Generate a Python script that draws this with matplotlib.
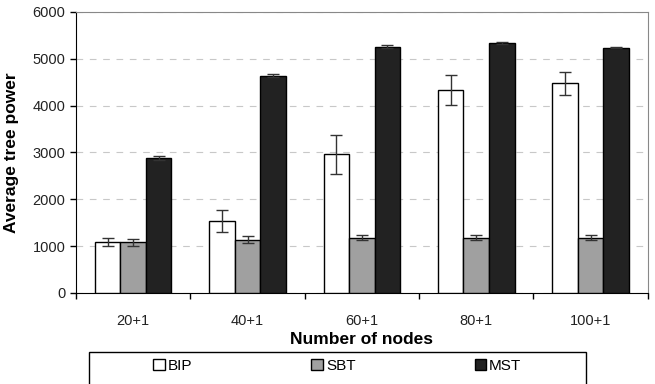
import numpy as np
import matplotlib
matplotlib.use("Agg")
from matplotlib import pyplot as plt
from matplotlib.patches import Rectangle

plt.rcParams['font.family'] = ['Liberation Sans', 'DejaVu Sans']

# data
groups = ['20+1', '40+1', '60+1', '80+1', '100+1']
series = ['BIP', 'SBT', 'MST']
bip = [1090, 1540, 2960, 4330, 4480]
bip_err = [90, 230, 410, 320, 245]
sbt = [1080, 1140, 1180, 1180, 1180]
sbt_err = [70, 70, 55, 55, 55]
mst = [2880, 4640, 5260, 5330, 5240]
mst_err = [35, 25, 40, 20, 20]
colors = ['white', '#a0a0a0', '#222222']

fig = plt.figure(figsize=(6.55, 3.84), dpi=100)
ax = fig.add_axes([0.116, 0.237, 0.873, 0.732])

x = np.arange(len(groups))
width = 0.223
values = [bip, sbt, mst]
errors = [bip_err, sbt_err, mst_err]
for i, (vals, errs, col, name) in enumerate(zip(values, errors, colors, series)):
    ax.bar(x + (i - 1) * width, vals, width, color=col, edgecolor='black',
           linewidth=1, label=name, zorder=3,
           yerr=errs, error_kw=dict(ecolor='#333333', elinewidth=1,
                                    capsize=4, capthick=1, zorder=4))

ax.set_xlim(-0.5, len(groups) - 0.5)
ax.set_ylim(0, 6000)
ax.set_yticks(np.arange(0, 6001, 1000))
ax.yaxis.grid(True, linestyle=(0, (6, 6)), color='#c8c8c8', linewidth=0.8, zorder=0)

# category labels centered, ticks between groups
ax.set_xticks(x)
ax.set_xticklabels(groups)
ax.tick_params(axis='x', length=0, pad=15, labelsize=10.5, labelcolor='#222222')
ax.set_xticks(np.arange(-0.5, len(groups), 1), minor=True)
ax.tick_params(axis='x', which='minor', length=4, direction='out', width=1)
ax.tick_params(axis='y', length=4, direction='out', width=1, labelsize=10.5,
               labelcolor='#222222')

for side in ['top', 'right']:
    ax.spines[side].set_color('#888888')
ax.spines['left'].set_color('black')
ax.spines['bottom'].set_color('black')

ax.set_xlabel('Number of nodes', fontsize=12.5, fontweight='bold', labelpad=3)
ax.set_ylabel('Average tree power', fontsize=12.5, fontweight='bold', labelpad=10)

# legend box (extends past bottom edge like the reference)
fig.patches.append(Rectangle((89 / 655, -0.05), (586 - 89) / 655, 32 / 384 + 0.05,
                             transform=fig.transFigure, facecolor='white',
                             edgecolor='black', linewidth=1))
handles, labels = ax.get_legend_handles_labels()
handles = [h.patches[0] for h in handles]
leg = fig.legend(handles, labels, ncol=3, loc='center', frameon=False,
                 bbox_to_anchor=(0.515, 0.047), fontsize=11,
                 handlelength=0.75, handleheight=0.75, handletextpad=0.2,
                 columnspacing=7.8)

fig.savefig('out.png', dpi=100)
